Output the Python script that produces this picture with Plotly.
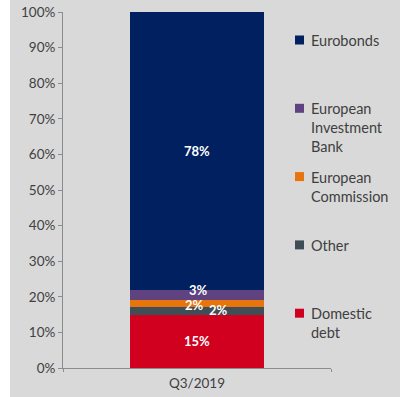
import plotly.graph_objects as go

# Debt structure by source, share of total (%)
category = ["Q3/2019"]
series_names = ["Domestic debt", "Other", "European Commission",
                "European Investment Bank", "Eurobonds"]
series_values = [15, 2, 2, 3, 78]
series_colors = ["#D2001F", "#3F4E56", "#E8740C", "#5E4380", "#002060"]
legend_labels = ["Eurobonds", "European<br>Investment<br>Bank",
                 "European<br>Commission", "Other", "Domestic<br>debt"]
legend_order = [4, 3, 2, 1, 0]
# small nudges for crowded value labels (px)
label_xshift = [0, 21, -3, 1, 0]
label_yshift = [0, 1, -1, 5, 0]

y_ticks = list(range(0, 101, 10))
y_ticktext = [f"{v}%" for v in y_ticks]

FONT = "Lato"
TEXT = "#404040"
AXIS = "#8C8C8C"

L, R, T, B = 63, 69, 12, 29
W, H = 400, 397
pw, ph = W - L - R, H - T - B

fig = go.Figure()
for name, val, col in zip(series_names, series_values, series_colors):
    fig.add_trace(go.Bar(x=category, y=[val], name=name, marker_color=col,
                         marker_line_width=0, showlegend=False))

annotations = []
cum = 0
for val, dx, dy in zip(series_values, label_xshift, label_yshift):
    annotations.append(dict(x=category[0], y=cum + val / 2, xref="x", yref="y",
                            text=f"<b>{val}%</b>", showarrow=False,
                            xshift=dx, yshift=dy, borderpad=0,
                            font=dict(family=FONT, size=13, color="white")))
    cum += val

# legend drawn as swatches + text in equal-height slots
shapes = [
    dict(type="rect", xref="paper", yref="paper",
         x0=(0 - L) / pw, x1=(10 - L) / pw, y0=-B / ph - 0.01, y1=(H - B) / ph + 0.01,
         fillcolor="white", line_width=0, layer="below"),
]
slot_top_px = 40
slot_step = 68.3
for i, idx in enumerate(legend_order):
    cy = slot_top_px + i * slot_step
    yp = (H - B - cy) / ph
    shapes.append(dict(type="rect", xref="paper", yref="paper",
                       x0=(295 - L) / pw, x1=(304 - L) / pw,
                       y0=yp - 4.5 / ph, y1=yp + 4.5 / ph,
                       fillcolor=series_colors[idx], line_width=0))
    annotations.append(dict(x=(309 - L) / pw, y=(H - B - cy + 10) / ph,
                            xref="paper", yref="paper", xanchor="left", yanchor="top",
                            align="left", showarrow=False, text=legend_labels[i],
                            font=dict(family=FONT, size=14.5, color=TEXT)))

fig.update_layout(
    barmode="stack",
    bargap=0.5,
    width=W, height=H,
    margin=dict(l=L, r=R, t=T, b=B, pad=0, autoexpand=False),
    paper_bgcolor="#D9D9D9",
    plot_bgcolor="#D9D9D9",
    font=dict(family=FONT, size=13, color=TEXT),
    showlegend=False,
    shapes=shapes,
    annotations=annotations,
    xaxis=dict(showgrid=False, zeroline=False, showline=True, linecolor=AXIS,
               linewidth=1, ticks="outside", tickson="boundaries", ticklen=3,
               tickcolor=AXIS, automargin=False, ticklabelstandoff=3,
               tickfont=dict(size=13.5, color=TEXT)),
    yaxis=dict(range=[0, 100], tickvals=y_ticks, ticktext=y_ticktext,
               showgrid=False, zeroline=False, showline=True, linecolor=AXIS,
               linewidth=1, ticks="outside", ticklen=4, tickcolor=AXIS,
               automargin=False, tickfont=dict(size=13.5, color=TEXT)),
)

fig.write_html("out.html")
